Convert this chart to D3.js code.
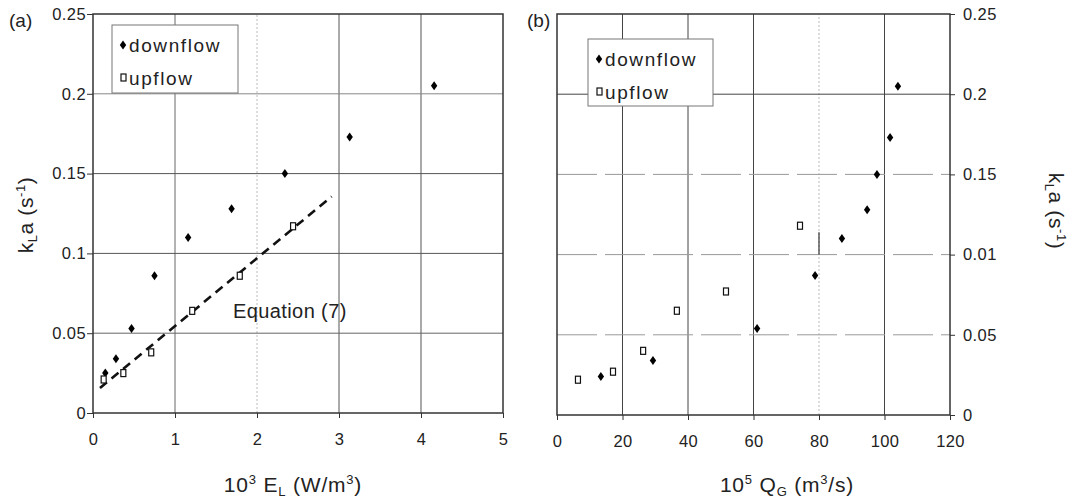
<!DOCTYPE html>
<html>
<head>
<meta charset="utf-8">
<script src="https://cdn.jsdelivr.net/npm/d3@7"></script>
<style>
body { margin: 0; background: #fff; }
svg text { font-family: "Liberation Sans", Arial, sans-serif; fill: #222; }
</style>
</head>
<body>
<div id="chart"></div>
<script>
// panel (a): kLa vs 10^3 EL
var downA_x = [0.15, 0.28, 0.47, 0.75, 1.16, 1.69, 2.34, 3.13, 4.16];
var downA_y = [0.025, 0.034, 0.053, 0.086, 0.110, 0.128, 0.150, 0.173, 0.205];
var upA_x = [0.13, 0.37, 0.71, 1.21, 1.79, 2.44];
var upA_y = [0.021, 0.025, 0.038, 0.064, 0.086, 0.117];
var eqLine_x = [0.085, 2.91];
var eqLine_y = [0.0156, 0.1356];
var xTicksA = [0, 1, 2, 3, 4, 5];

// panel (b): kLa vs 10^5 QG
var downB_x = [13.4, 29.3, 61.1, 78.8, 87.0, 94.7, 97.7, 101.7, 104.1];
var downB_y = [0.024, 0.034, 0.054, 0.087, 0.110, 0.128, 0.150, 0.173, 0.205];
var upB_x = [6.4, 17.1, 26.3, 36.6, 51.6, 74.2];
var upB_y = [0.022, 0.027, 0.040, 0.065, 0.077, 0.118];
var xTicksB = [0, 20, 40, 60, 80, 100, 120];

var yTicks = [0, 0.05, 0.1, 0.15, 0.2, 0.25];
var yLabelsA = ["0", "0.05", "0.1", "0.15", "0.2", "0.25"];
var yLabelsB = ["0", "0.05", "0.01", "0.15", "0.2", "0.25"];

var svg = d3.select("#chart").append("svg")
	.attr("width", 1071)
	.attr("height", 498);

var xA = d3.scaleLinear().domain([0, 5]).range([93, 503]);
var yA = d3.scaleLinear().domain([0, 0.25]).range([413, 14]);
var xB = d3.scaleLinear().domain([0, 120]).range([557, 950]);
var yB = d3.scaleLinear().domain([0, 0.25]).range([415, 14]);

var diamond = "M0,-4.5L3.2,0L0,4.5L-3.2,0Z";

function zip(xs, ys) {
	return xs.map(function(v, i) { return [v, ys[i]]; });
}

// grid lines, style picked per value like the scanned original
function grid(g, x, y, vStyle, hStyle) {
	g.selectAll(".vgrid")
		.data(vStyle)
		.enter().append("line")
		.attr("x1", function(d) { return x(d.v); })
		.attr("x2", function(d) { return x(d.v); })
		.attr("y1", y.range()[0])
		.attr("y2", y.range()[1])
		.attr("stroke", function(d) { return d.c; })
		.attr("stroke-width", function(d) { return d.w; })
		.attr("stroke-dasharray", function(d) { return d.dash; });
	g.selectAll(".hgrid")
		.data(hStyle)
		.enter().append("line")
		.attr("x1", x.range()[0])
		.attr("x2", x.range()[1])
		.attr("y1", function(d) { return y(d.v); })
		.attr("y2", function(d) { return y(d.v); })
		.attr("stroke", function(d) { return d.c; })
		.attr("stroke-width", function(d) { return d.w; })
		.attr("stroke-dasharray", function(d) { return d.dash; });
}

function frame(g, x, y) {
	g.append("rect")
		.attr("x", x.range()[0])
		.attr("y", y.range()[1])
		.attr("width", x.range()[1] - x.range()[0])
		.attr("height", y.range()[0] - y.range()[1])
		.attr("fill", "none")
		.attr("stroke", "#333")
		.attr("stroke-width", 1.5);
}

function points(g, x, y, down, up) {
	g.selectAll(".down")
		.data(down)
		.enter().append("path")
		.attr("d", diamond)
		.attr("transform", function(d) { return "translate(" + x(d[0]) + "," + y(d[1]) + ")"; })
		.attr("fill", "#000");
	g.selectAll(".up")
		.data(up)
		.enter().append("rect")
		.attr("x", function(d) { return x(d[0]) - 2.5; })
		.attr("y", function(d) { return y(d[1]) - 3.5; })
		.attr("width", 5)
		.attr("height", 7)
		.attr("fill", "#fff")
		.attr("stroke", "#111")
		.attr("stroke-width", 1.2);
}

function legend(g, lx, ly, w, h) {
	g.append("rect")
		.attr("x", lx).attr("y", ly)
		.attr("width", w).attr("height", h)
		.attr("fill", "#fff")
		.attr("stroke", "#777")
		.attr("stroke-width", 1);
	g.append("path")
		.attr("d", diamond)
		.attr("transform", "translate(" + (lx + 11) + "," + (ly + 20) + ")")
		.attr("fill", "#000");
	g.append("text")
		.attr("x", lx + 17).attr("y", ly + 27)
		.style("font-size", "19px")
		.style("letter-spacing", "1.6px")
		.text("downflow");
	g.append("rect")
		.attr("x", lx + 9).attr("y", ly + 49)
		.attr("width", 5).attr("height", 7)
		.attr("fill", "#fff")
		.attr("stroke", "#111")
		.attr("stroke-width", 1.2);
	g.append("text")
		.attr("x", lx + 17).attr("y", ly + 60)
		.style("font-size", "19px")
		.style("letter-spacing", "1.6px")
		.text("upflow");
}

function styleAxis(ax) {
	ax.select(".domain").remove();
	ax.selectAll(".tick line").attr("stroke", "#333");
	ax.selectAll(".tick text")
		.style("font-size", "16.5px")
		.style("letter-spacing", "0.4px")
		.attr("fill", "#222");
}

function kla(g, tr) {
	var t = g.append("text")
		.attr("transform", tr)
		.attr("text-anchor", "middle")
		.style("font-size", "21px")
		.style("letter-spacing", "0.6px");
	t.append("tspan").text("k");
	t.append("tspan").attr("dy", 4).style("font-size", "13px").text("L");
	t.append("tspan").attr("dy", -4).text("a (s");
	t.append("tspan").attr("dy", -8).style("font-size", "13px").text("-1");
	t.append("tspan").attr("dy", 8).text(")");
}

// ----- panel (a)
var gA = svg.append("g");
grid(gA, xA, yA,
	[{v: 1, c: "#666", w: 1, dash: null},
	 {v: 2, c: "#bbb", w: 1, dash: "2,2"},
	 {v: 3, c: "#555", w: 1, dash: null},
	 {v: 4, c: "#555", w: 1, dash: null}],
	[{v: 0.05, c: "#666", w: 1, dash: null},
	 {v: 0.1, c: "#555", w: 1, dash: null},
	 {v: 0.15, c: "#555", w: 1, dash: null},
	 {v: 0.2, c: "#888", w: 1, dash: null}]);
frame(gA, xA, yA);

var axA_x = gA.append("g")
	.attr("transform", "translate(0," + yA(0) + ")")
	.call(d3.axisBottom(xA).tickValues(xTicksA).tickSize(5).tickPadding(15).tickFormat(d3.format("d")));
styleAxis(axA_x);
var axA_y = gA.append("g")
	.attr("transform", "translate(" + xA(0) + ",0)")
	.call(d3.axisLeft(yA).tickValues(yTicks).tickSize(6).tickPadding(1)
		.tickFormat(function(d, i) { return yLabelsA[i]; }));
styleAxis(axA_y);

legend(gA, 112, 25, 126, 68);

gA.append("path")
	.datum(zip(eqLine_x, eqLine_y))
	.attr("d", d3.line().x(function(d) { return xA(d[0]); }).y(function(d) { return yA(d[1]); }))
	.attr("fill", "none")
	.attr("stroke", "#111")
	.attr("stroke-width", 2.6)
	.attr("stroke-dasharray", "9,6");

points(gA, xA, yA, zip(downA_x, downA_y), zip(upA_x, upA_y));

gA.append("text")
	.attr("x", 233).attr("y", 318)
	.style("font-size", "20px")
	.style("letter-spacing", "0.4px")
	.text("Equation (7)");

gA.append("text")
	.attr("x", 9).attr("y", 27)
	.style("font-size", "19px")
	.text("(a)");

var titleA = gA.append("text")
	.attr("x", 293).attr("y", 492)
	.attr("text-anchor", "middle")
	.style("font-size", "21px")
	.style("letter-spacing", "0.8px");
titleA.append("tspan").text("10");
titleA.append("tspan").attr("dy", -8).style("font-size", "13px").text("3");
titleA.append("tspan").attr("dy", 8).text(" E");
titleA.append("tspan").attr("dy", 4).style("font-size", "13px").text("L");
titleA.append("tspan").attr("dy", -4).text(" (W/m");
titleA.append("tspan").attr("dy", -8).style("font-size", "13px").text("3");
titleA.append("tspan").attr("dy", 8).text(")");

kla(gA, "translate(33,215) rotate(-90)");

// ----- panel (b)
var gB = svg.append("g");
grid(gB, xB, yB,
	[{v: 20, c: "#444", w: 1, dash: null},
	 {v: 40, c: "#444", w: 1, dash: null},
	 {v: 60, c: "#444", w: 1, dash: null},
	 {v: 80, c: "#bbb", w: 1, dash: "2,2"},
	 {v: 100, c: "#444", w: 1, dash: null}],
	[{v: 0.05, c: "#999", w: 1, dash: "40,8"},
	 {v: 0.1, c: "#999", w: 1, dash: "40,8"},
	 {v: 0.15, c: "#999", w: 1, dash: "40,8"},
	 {v: 0.2, c: "#444", w: 1, dash: null}]);
// short dark piece on the 80 line
gB.append("line")
	.attr("x1", xB(80)).attr("x2", xB(80))
	.attr("y1", yB(0.1)).attr("y2", yB(0.114))
	.attr("stroke", "#333").attr("stroke-width", 1.2);
frame(gB, xB, yB);

var axB_x = gB.append("g")
	.attr("transform", "translate(0," + yB(0) + ")")
	.call(d3.axisBottom(xB).tickValues(xTicksB).tickSize(5).tickPadding(15).tickFormat(d3.format("d")));
styleAxis(axB_x);
var axB_y = gB.append("g")
	.attr("transform", "translate(" + xB(120) + ",0)")
	.call(d3.axisRight(yB).tickValues(yTicks).tickSize(5).tickPadding(8)
		.tickFormat(function(d, i) { return yLabelsB[i]; }));
styleAxis(axB_y);

legend(gB, 588, 39, 125, 67);

points(gB, xB, yB, zip(downB_x, downB_y), zip(upB_x, upB_y));

gB.append("text")
	.attr("x", 527).attr("y", 27)
	.style("font-size", "19px")
	.text("(b)");

var titleB = gB.append("text")
	.attr("x", 787).attr("y", 492)
	.attr("text-anchor", "middle")
	.style("font-size", "21px")
	.style("letter-spacing", "0.8px");
titleB.append("tspan").text("10");
titleB.append("tspan").attr("dy", -8).style("font-size", "13px").text("5");
titleB.append("tspan").attr("dy", 8).text(" Q");
titleB.append("tspan").attr("dy", 4).style("font-size", "13px").text("G");
titleB.append("tspan").attr("dy", -4).text(" (m");
titleB.append("tspan").attr("dy", -8).style("font-size", "13px").text("3");
titleB.append("tspan").attr("dy", 8).text("/s)");

kla(gB, "translate(1049,211) rotate(90)");
</script>
</body>
</html>
